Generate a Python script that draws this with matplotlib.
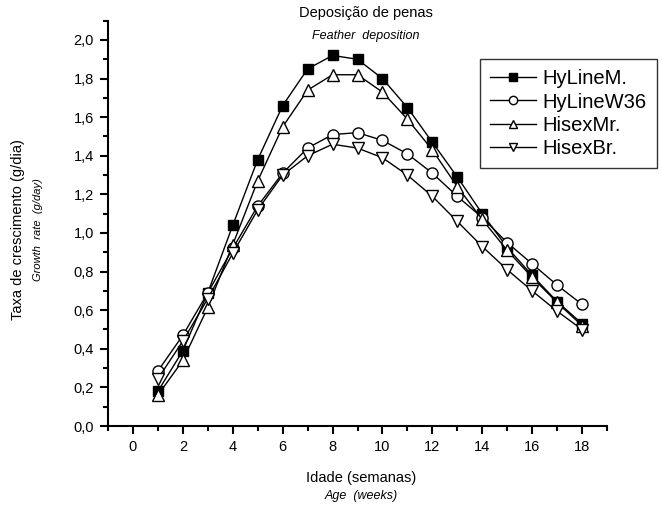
import matplotlib
matplotlib.use("Agg")
import matplotlib.pyplot as plt
from matplotlib.ticker import MultipleLocator, FuncFormatter

plt.rcParams['font.family'] = ['Liberation Sans', 'DejaVu Sans']

weeks = list(range(1, 19))
hyline_m = [0.18, 0.39, 0.69, 1.04, 1.38, 1.66, 1.85, 1.92, 1.90, 1.80, 1.65, 1.47, 1.29, 1.10, 0.925, 0.78, 0.645, 0.53]
hyline_w36 = [0.285, 0.47, 0.69, 0.92, 1.14, 1.31, 1.44, 1.51, 1.52, 1.48, 1.41, 1.31, 1.19, 1.08, 0.95, 0.84, 0.73, 0.63]
hisex_mr = [0.16, 0.34, 0.615, 0.94, 1.27, 1.55, 1.74, 1.82, 1.82, 1.73, 1.59, 1.43, 1.24, 1.07, 0.91, 0.77, 0.64, 0.52]
hisex_br = [0.245, 0.44, 0.66, 0.895, 1.12, 1.30, 1.40, 1.46, 1.44, 1.39, 1.30, 1.19, 1.06, 0.93, 0.81, 0.70, 0.595, 0.50]
series_names = ["HyLineM.", "HyLineW36", "HisexMr.", "HisexBr."]

fig = plt.figure(figsize=(6.62, 5.07), dpi=100)
ax = fig.add_axes([108 / 662, 1 - 426 / 507, 499 / 662, 405.3 / 507])

ms = 7
ax.plot(weeks, hyline_m, color="black", lw=1, marker="s", ms=ms, mfc="black", mec="black", label=series_names[0])
ax.plot(weeks, hyline_w36, color="black", lw=1, marker="o", ms=ms + 1, mfc="white", mec="black", label=series_names[1])
ax.plot(weeks, hisex_mr, color="black", lw=1, marker="^", ms=ms + 1, mfc="white", mec="black", label=series_names[2])
ax.plot(weeks, hisex_br, color="black", lw=1, marker="v", ms=ms + 1, mfc="white", mec="black", label=series_names[3])

ax.set_xlim(-1, 19)
ax.set_ylim(0, 2.1)
ax.xaxis.set_major_locator(MultipleLocator(2))
ax.xaxis.set_minor_locator(MultipleLocator(1))
ax.yaxis.set_major_locator(MultipleLocator(0.2))
ax.yaxis.set_minor_locator(MultipleLocator(0.1))
ax.yaxis.set_major_formatter(FuncFormatter(lambda v, p: f"{v:.1f}".replace(".", ",")))

for s in ["top", "right"]:
    ax.spines[s].set_visible(False)
for s in ["left", "bottom"]:
    ax.spines[s].set_linewidth(1.5)
ax.tick_params(which="major", direction="out", length=6, width=1.5, labelsize=10.5, pad=4)
ax.tick_params(which="minor", direction="out", length=3.5, width=1.5)

# titles / labels as two-line text (second line italic)
fig.text(366 / 662, 1 - 13 / 507, "Deposição de penas", ha="center", va="center", fontsize=10.5)
fig.text(366 / 662, 1 - 36 / 507, "Feather  deposition", ha="center", va="center", fontsize=9, style="italic")
fig.text(361 / 662, 1 - 478 / 507, "Idade (semanas)", ha="center", va="center", fontsize=10.5)
fig.text(361 / 662, 1 - 496 / 507, "Age  (weeks)", ha="center", va="center", fontsize=9, style="italic")
fig.text(18 / 662, 1 - 230 / 507, "Taxa de crescimento (g/dia)", ha="center", va="center", fontsize=10.5, rotation=90)
fig.text(38 / 662, 1 - 230 / 507, "Growth  rate  (g/day)", ha="center", va="center", fontsize=8, style="italic", rotation=90)

leg = ax.legend(loc="upper left", bbox_to_anchor=(480 / 662, 1 - 59 / 507), bbox_transform=fig.transFigure,
                fontsize=14.5, frameon=True, fancybox=False, borderaxespad=0, handlelength=2.3,
                handletextpad=0.3, labelspacing=0.22, borderpad=0.5, markerscale=0.75)
leg.get_frame().set_edgecolor("black")
leg.get_frame().set_linewidth(1)

fig.savefig("out.png", dpi=100)
